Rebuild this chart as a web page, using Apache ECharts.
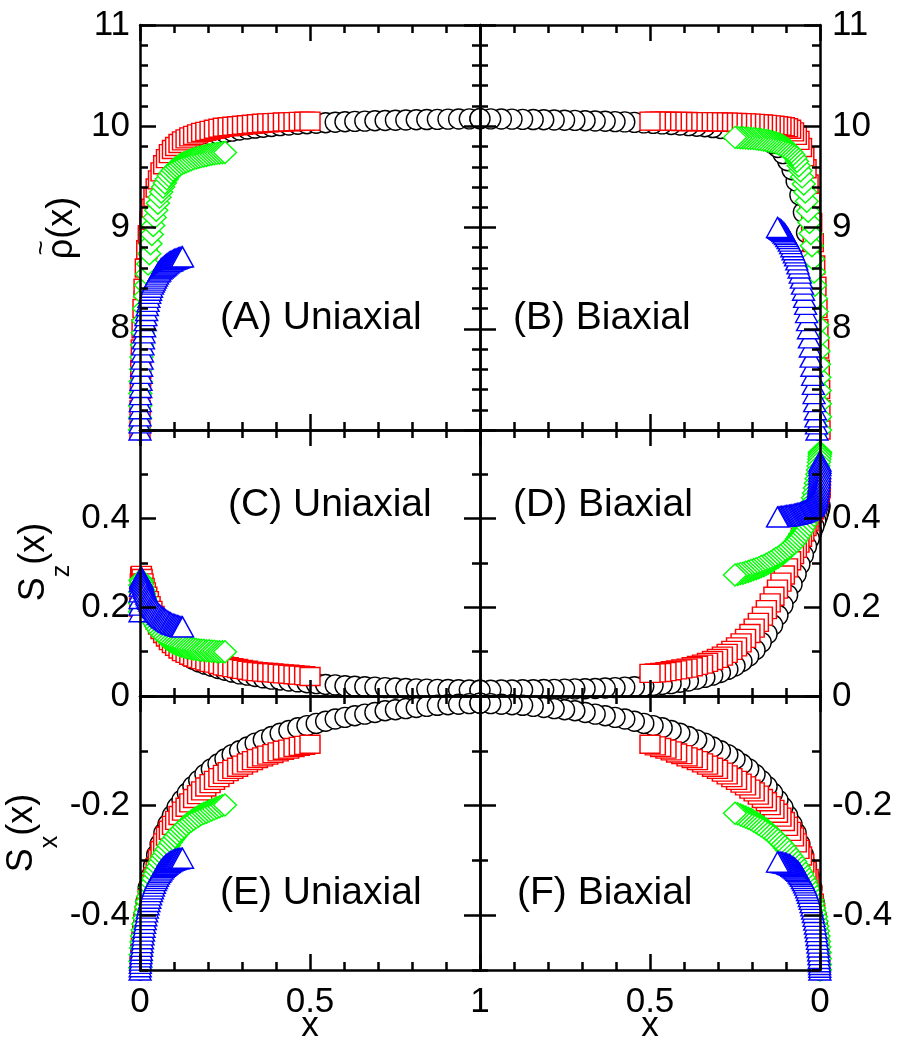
<!DOCTYPE html>
<html>
<head>
<meta charset="utf-8">
<title>Density and order-parameter profiles</title>
<script src="https://cdn.jsdelivr.net/npm/echarts@6.0.0/dist/echarts.min.js"></script>
<style>
  html, body { margin: 0; padding: 0; background: #ffffff; }
  #chart { width: 898px; height: 1040px; }
</style>
</head>
<body>
<div id="chart"></div>
<script>
// ---------- sampling positions (distance from the wall) for the four system sizes ----------
const xCircle = [0, 0.0005, 0.002, 0.0044, 0.0079, 0.0123, 0.0177, 0.0241, 0.0314, 0.0397, 0.0489, 0.0591, 0.0702, 0.0822, 0.0952, 0.109, 0.1237, 0.1393, 0.1557, 0.1729, 0.191, 0.2098, 0.2295, 0.2499, 0.271, 0.2929, 0.3155, 0.3387, 0.3626, 0.3871, 0.4122, 0.4379, 0.4642, 0.491, 0.5183, 0.546, 0.5742, 0.6029, 0.6319, 0.6613, 0.691, 0.721, 0.7513, 0.7819, 0.8126, 0.8436, 0.8747, 0.9059, 0.9372, 0.9686, 1];
const xSquare = [0, 0.00025, 0.001, 0.0022, 0.004, 0.0062, 0.0089, 0.012, 0.0157, 0.0199, 0.0245, 0.0296, 0.0351, 0.0411, 0.0476, 0.0545, 0.0619, 0.0697, 0.0779, 0.0865, 0.0955, 0.1049, 0.1148, 0.125, 0.1355, 0.1465, 0.1578, 0.1694, 0.1813, 0.1936, 0.2061, 0.219, 0.2321, 0.2455, 0.2592, 0.273, 0.2871, 0.3015, 0.316, 0.3307, 0.3455, 0.3605, 0.3757, 0.391, 0.4063, 0.4218, 0.4374, 0.453, 0.4686, 0.4843, 0.5];
const xDiamond = [0, 0.0001, 0.0005, 0.0011, 0.002, 0.0031, 0.0044, 0.006, 0.0079, 0.0099, 0.0122, 0.0148, 0.0176, 0.0206, 0.0238, 0.0273, 0.0309, 0.0348, 0.0389, 0.0432, 0.0478, 0.0525, 0.0574, 0.0625, 0.0678, 0.0732, 0.0789, 0.0847, 0.0907, 0.0968, 0.1031, 0.1095, 0.1161, 0.1228, 0.1296, 0.1365, 0.1436, 0.1507, 0.158, 0.1653, 0.1728, 0.1803, 0.1878, 0.1955, 0.2032, 0.2109, 0.2187, 0.2265, 0.2343, 0.2422, 0.25];
const xTriangle = [0, 0.0001, 0.0003, 0.0006, 0.001, 0.0015, 0.0022, 0.003, 0.0039, 0.005, 0.0061, 0.0074, 0.0088, 0.0103, 0.0119, 0.0136, 0.0155, 0.0174, 0.0195, 0.0216, 0.0239, 0.0262, 0.0287, 0.0312, 0.0339, 0.0366, 0.0394, 0.0423, 0.0453, 0.0484, 0.0515, 0.0547, 0.058, 0.0614, 0.0648, 0.0683, 0.0718, 0.0754, 0.079, 0.0827, 0.0864, 0.0901, 0.0939, 0.0977, 0.1016, 0.1055, 0.1093, 0.1132, 0.1172, 0.1211, 0.125];

// ---------- (A) density, uniaxial ----------
const rhoUniCircle = [7.0, 7.2, 7.45, 7.75, 8.05, 8.35, 8.62, 8.85, 9.05, 9.2, 9.33, 9.44, 9.53, 9.61, 9.67, 9.72, 9.77, 9.81, 9.84, 9.87, 9.89, 9.91, 9.925, 9.94, 9.952, 9.963, 9.973, 9.982, 9.99, 9.998, 10.006, 10.013, 10.02, 10.025, 10.03, 10.035, 10.04, 10.044, 10.048, 10.051, 10.054, 10.057, 10.06, 10.062, 10.064, 10.066, 10.068, 10.07, 10.072, 10.073, 10.075];
const rhoUniSquare = [7.0, 7.2, 7.4, 7.6, 7.8, 8.0, 8.2, 8.4, 8.6, 8.78, 8.93, 9.07, 9.19, 9.3, 9.39, 9.47, 9.55, 9.62, 9.68, 9.73, 9.77, 9.8, 9.83, 9.855, 9.875, 9.895, 9.91, 9.925, 9.94, 9.95, 9.96, 9.97, 9.98, 9.99, 9.995, 10.0, 10.005, 10.01, 10.015, 10.02, 10.025, 10.03, 10.033, 10.036, 10.039, 10.042, 10.044, 10.046, 10.048, 10.049, 10.05];
const rhoUniDiamond = [7.0, 7.12, 7.24, 7.36, 7.48, 7.6, 7.72, 7.84, 7.96, 8.08, 8.2, 8.32, 8.43, 8.54, 8.64, 8.74, 8.84, 8.93, 9.02, 9.1, 9.17, 9.24, 9.3, 9.35, 9.4, 9.44, 9.48, 9.51, 9.54, 9.565, 9.585, 9.6, 9.615, 9.63, 9.64, 9.65, 9.66, 9.67, 9.68, 9.687, 9.694, 9.7, 9.706, 9.712, 9.718, 9.723, 9.728, 9.732, 9.735, 9.738, 9.74];
const rhoUniTriangle = [7.0, 7.07, 7.14, 7.21, 7.28, 7.35, 7.42, 7.49, 7.56, 7.63, 7.7, 7.77, 7.84, 7.9, 7.96, 8.02, 8.08, 8.13, 8.18, 8.23, 8.27, 8.31, 8.35, 8.38, 8.41, 8.44, 8.46, 8.48, 8.5, 8.52, 8.54, 8.56, 8.57, 8.59, 8.6, 8.61, 8.62, 8.63, 8.64, 8.65, 8.66, 8.665, 8.67, 8.68, 8.685, 8.69, 8.695, 8.7, 8.705, 8.708, 8.71];

// ---------- (B) density, biaxial ----------
const rhoBiCircle = [6.5, 6.7, 6.85, 7.0, 7.3, 7.65, 8.0, 8.35, 8.7, 8.95, 9.15, 9.32, 9.46, 9.57, 9.66, 9.73, 9.79, 9.83, 9.865, 9.89, 9.91, 9.925, 9.94, 9.955, 9.968, 9.978, 9.987, 9.995, 10.0, 10.006, 10.012, 10.018, 10.023, 10.028, 10.033, 10.038, 10.043, 10.046, 10.049, 10.052, 10.055, 10.058, 10.06, 10.062, 10.064, 10.066, 10.068, 10.07, 10.072, 10.073, 10.075];
const rhoBiSquare = [7.0, 7.2, 7.4, 7.6, 7.8, 8.0, 8.2, 8.42, 8.63, 8.85, 9.05, 9.25, 9.43, 9.58, 9.7, 9.79, 9.86, 9.91, 9.945, 9.97, 9.985, 9.995, 10.0, 10.005, 10.01, 10.014, 10.018, 10.022, 10.025, 10.028, 10.031, 10.033, 10.035, 10.037, 10.039, 10.04, 10.041, 10.042, 10.043, 10.044, 10.045, 10.046, 10.046, 10.047, 10.047, 10.048, 10.048, 10.049, 10.049, 10.05, 10.05];
const rhoBiDiamond = [7.0, 7.13, 7.26, 7.39, 7.52, 7.65, 7.78, 7.91, 8.04, 8.17, 8.3, 8.43, 8.56, 8.69, 8.82, 8.94, 9.05, 9.16, 9.26, 9.35, 9.43, 9.5, 9.56, 9.61, 9.655, 9.69, 9.72, 9.745, 9.765, 9.78, 9.795, 9.807, 9.818, 9.828, 9.836, 9.843, 9.849, 9.855, 9.86, 9.864, 9.868, 9.872, 9.875, 9.878, 9.88, 9.882, 9.884, 9.886, 9.887, 9.888, 9.89];
const rhoBiTriangle = [6.4, 6.45, 6.5, 6.55, 6.6, 6.65, 6.7, 6.75, 6.8, 6.85, 6.9, 6.95, 7.0, 7.06, 7.13, 7.2, 7.28, 7.36, 7.45, 7.54, 7.63, 7.72, 7.82, 7.91, 8.0, 8.08, 8.16, 8.24, 8.31, 8.38, 8.44, 8.5, 8.55, 8.6, 8.64, 8.68, 8.72, 8.75, 8.78, 8.81, 8.84, 8.865, 8.89, 8.91, 8.93, 8.945, 8.96, 8.972, 8.983, 8.992, 9.0];

// ---------- (C) S_z, uniaxial ----------
const szUniCircle = [0.2, 0.24, 0.262, 0.265, 0.255, 0.243, 0.23, 0.215, 0.2, 0.183, 0.165, 0.152, 0.14, 0.128, 0.117, 0.107, 0.098, 0.09, 0.083, 0.077, 0.072, 0.067, 0.062, 0.058, 0.054, 0.05, 0.047, 0.044, 0.041, 0.038, 0.036, 0.034, 0.032, 0.03, 0.028, 0.026, 0.025, 0.023, 0.022, 0.021, 0.02, 0.019, 0.018, 0.017, 0.016, 0.0155, 0.015, 0.0145, 0.014, 0.0135, 0.013];
const szUniSquare = [0.2, 0.23, 0.255, 0.27, 0.272, 0.265, 0.255, 0.245, 0.235, 0.225, 0.215, 0.204, 0.193, 0.182, 0.171, 0.16, 0.15, 0.141, 0.133, 0.125, 0.118, 0.112, 0.106, 0.1, 0.096, 0.092, 0.088, 0.085, 0.082, 0.079, 0.076, 0.074, 0.071, 0.068, 0.066, 0.064, 0.062, 0.06, 0.058, 0.056, 0.055, 0.054, 0.053, 0.052, 0.051, 0.05, 0.049, 0.048, 0.047, 0.046, 0.044];
const szUniDiamond = [0.19, 0.21, 0.235, 0.25, 0.26, 0.262, 0.258, 0.252, 0.245, 0.238, 0.23, 0.222, 0.214, 0.206, 0.198, 0.19, 0.183, 0.176, 0.169, 0.163, 0.157, 0.151, 0.146, 0.141, 0.137, 0.133, 0.129, 0.126, 0.123, 0.12, 0.118, 0.116, 0.114, 0.112, 0.111, 0.109, 0.108, 0.107, 0.106, 0.105, 0.104, 0.103, 0.103, 0.102, 0.102, 0.101, 0.101, 0.1, 0.1, 0.1, 0.1];
const szUniTriangle = [0.19, 0.205, 0.22, 0.235, 0.248, 0.258, 0.265, 0.268, 0.268, 0.266, 0.263, 0.259, 0.255, 0.251, 0.247, 0.243, 0.239, 0.235, 0.23, 0.226, 0.222, 0.218, 0.214, 0.21, 0.206, 0.203, 0.2, 0.197, 0.194, 0.191, 0.188, 0.185, 0.183, 0.18, 0.178, 0.176, 0.174, 0.172, 0.17, 0.168, 0.166, 0.165, 0.163, 0.162, 0.161, 0.16, 0.159, 0.158, 0.157, 0.156, 0.156];

// ---------- (D) S_z, biaxial ----------
const szBiCircle = [0.43, 0.425, 0.42, 0.413, 0.405, 0.395, 0.383, 0.37, 0.355, 0.338, 0.318, 0.297, 0.275, 0.252, 0.228, 0.205, 0.182, 0.16, 0.14, 0.121, 0.104, 0.09, 0.078, 0.068, 0.06, 0.053, 0.047, 0.042, 0.038, 0.034, 0.031, 0.028, 0.026, 0.024, 0.022, 0.021, 0.02, 0.019, 0.018, 0.017, 0.0165, 0.016, 0.0155, 0.015, 0.0145, 0.014, 0.014, 0.0135, 0.0135, 0.013, 0.013];
const szBiSquare = [0.47, 0.468, 0.465, 0.46, 0.455, 0.45, 0.443, 0.436, 0.428, 0.42, 0.412, 0.403, 0.393, 0.382, 0.37, 0.358, 0.345, 0.333, 0.319, 0.305, 0.289, 0.273, 0.257, 0.241, 0.225, 0.21, 0.195, 0.18, 0.166, 0.153, 0.141, 0.13, 0.12, 0.111, 0.103, 0.096, 0.09, 0.085, 0.08, 0.076, 0.072, 0.069, 0.066, 0.063, 0.061, 0.059, 0.057, 0.055, 0.053, 0.052, 0.051];
const szBiDiamond = [0.55, 0.548, 0.545, 0.54, 0.534, 0.527, 0.519, 0.51, 0.5, 0.49, 0.48, 0.469, 0.458, 0.447, 0.436, 0.425, 0.415, 0.405, 0.396, 0.388, 0.38, 0.373, 0.366, 0.36, 0.354, 0.348, 0.343, 0.338, 0.333, 0.329, 0.325, 0.321, 0.317, 0.313, 0.31, 0.307, 0.303, 0.3, 0.297, 0.294, 0.292, 0.289, 0.287, 0.285, 0.283, 0.281, 0.279, 0.277, 0.276, 0.274, 0.273];
const szBiTriangle = [0.53, 0.525, 0.52, 0.513, 0.506, 0.499, 0.492, 0.485, 0.478, 0.471, 0.465, 0.459, 0.454, 0.449, 0.445, 0.441, 0.438, 0.435, 0.432, 0.43, 0.428, 0.426, 0.424, 0.423, 0.421, 0.42, 0.419, 0.418, 0.417, 0.416, 0.415, 0.414, 0.413, 0.412, 0.412, 0.411, 0.41, 0.41, 0.409, 0.409, 0.408, 0.408, 0.407, 0.407, 0.406, 0.406, 0.405, 0.405, 0.405, 0.404, 0.404];

// ---------- (E) and (F) S_x ----------
const sxCircle = [-0.5, -0.48, -0.46, -0.44, -0.42, -0.4, -0.375, -0.35, -0.33, -0.31, -0.29, -0.27, -0.25, -0.234, -0.218, -0.203, -0.19, -0.177, -0.165, -0.154, -0.143, -0.133, -0.124, -0.115, -0.107, -0.1, -0.093, -0.086, -0.08, -0.074, -0.068, -0.063, -0.058, -0.054, -0.05, -0.046, -0.042, -0.039, -0.036, -0.033, -0.03, -0.027, -0.025, -0.023, -0.021, -0.019, -0.017, -0.016, -0.015, -0.014, -0.013];
const sxUniSquare = [-0.52, -0.505, -0.49, -0.475, -0.46, -0.445, -0.43, -0.415, -0.4, -0.385, -0.37, -0.356, -0.343, -0.33, -0.313, -0.297, -0.282, -0.268, -0.256, -0.245, -0.236, -0.227, -0.218, -0.21, -0.203, -0.195, -0.187, -0.18, -0.173, -0.166, -0.16, -0.154, -0.149, -0.143, -0.138, -0.134, -0.13, -0.126, -0.122, -0.118, -0.114, -0.111, -0.108, -0.105, -0.102, -0.099, -0.097, -0.094, -0.092, -0.09, -0.088];
const sxUniDiamond = [-0.52, -0.508, -0.496, -0.484, -0.472, -0.46, -0.449, -0.438, -0.427, -0.416, -0.405, -0.395, -0.385, -0.375, -0.366, -0.357, -0.349, -0.341, -0.333, -0.325, -0.318, -0.311, -0.304, -0.297, -0.291, -0.285, -0.279, -0.273, -0.267, -0.262, -0.257, -0.252, -0.247, -0.243, -0.239, -0.235, -0.231, -0.228, -0.225, -0.222, -0.219, -0.216, -0.214, -0.212, -0.21, -0.208, -0.206, -0.204, -0.202, -0.2, -0.199];
const sxUniTriangle = [-0.51, -0.505, -0.5, -0.494, -0.488, -0.482, -0.476, -0.47, -0.464, -0.457, -0.45, -0.443, -0.436, -0.429, -0.422, -0.415, -0.408, -0.401, -0.394, -0.387, -0.381, -0.375, -0.369, -0.363, -0.357, -0.352, -0.347, -0.342, -0.337, -0.333, -0.329, -0.325, -0.322, -0.319, -0.316, -0.313, -0.311, -0.309, -0.307, -0.305, -0.304, -0.302, -0.301, -0.3, -0.299, -0.298, -0.297, -0.297, -0.296, -0.296, -0.296];
const sxBiSquare = [-0.52, -0.505, -0.49, -0.475, -0.46, -0.445, -0.43, -0.412, -0.395, -0.378, -0.362, -0.347, -0.333, -0.319, -0.305, -0.292, -0.28, -0.268, -0.257, -0.247, -0.238, -0.229, -0.221, -0.214, -0.207, -0.2, -0.193, -0.187, -0.181, -0.175, -0.17, -0.164, -0.159, -0.154, -0.149, -0.144, -0.139, -0.134, -0.13, -0.126, -0.122, -0.118, -0.114, -0.111, -0.107, -0.104, -0.1, -0.097, -0.094, -0.091, -0.088];
const sxBiDiamond = [-0.5, -0.49, -0.479, -0.468, -0.458, -0.448, -0.438, -0.429, -0.42, -0.411, -0.403, -0.395, -0.387, -0.379, -0.372, -0.365, -0.358, -0.351, -0.344, -0.337, -0.331, -0.325, -0.319, -0.313, -0.308, -0.302, -0.297, -0.292, -0.287, -0.282, -0.277, -0.272, -0.268, -0.263, -0.259, -0.255, -0.251, -0.247, -0.243, -0.24, -0.237, -0.234, -0.231, -0.228, -0.225, -0.223, -0.221, -0.219, -0.217, -0.215, -0.214];
const sxBiTriangle = [-0.51, -0.505, -0.5, -0.495, -0.49, -0.485, -0.479, -0.472, -0.465, -0.458, -0.451, -0.444, -0.437, -0.43, -0.423, -0.416, -0.409, -0.402, -0.395, -0.389, -0.383, -0.377, -0.371, -0.366, -0.36, -0.355, -0.35, -0.345, -0.341, -0.337, -0.333, -0.329, -0.326, -0.323, -0.32, -0.318, -0.316, -0.314, -0.312, -0.311, -0.309, -0.308, -0.307, -0.306, -0.305, -0.305, -0.304, -0.304, -0.303, -0.303, -0.303];

// ---------- tick labels ----------
const rhoTickLabels = [8, 9, 10, 11];
const szTickLabels = [0, 0.2, 0.4];
const sxTickLabels = [-0.4, -0.2];
const xTickLabelsLeft = [0, 0.5, 1];
const xTickLabelsRight = [0, 0.5];
const panelTags = ['(A) Uniaxial', '(B) Biaxial', '(C) Uniaxial', '(D) Biaxial', '(E) Uniaxial', '(F) Biaxial'];

// ---------- drawing ----------
const FONT = '"Liberation Sans", Arial, Helvetica, sans-serif';
const INK = '#000000';

function stepTicks(from, to, step) {
  const out = [];
  const n = Math.round((to - from) / step);
  for (let k = 0; k <= n; k++) out.push(+(from + k * step).toFixed(6));
  return out;
}
const isOn = (v, list) => list.some(m => Math.abs(m - v) < 1e-9);

const xMajors = [0, 0.5, 1];
const xMinors = stepTicks(0, 1, 0.1).filter(v => !isOn(v, xMajors));

const rows = [
  { top: 25, height: 405, min: 7, max: 11, majors: [7, 8, 9, 10, 11], labels: rhoTickLabels },
  { top: 430, height: 266, min: 0, max: 0.6, majors: [0, 0.2, 0.4, 0.6], labels: szTickLabels },
  { top: 696, height: 274, min: -0.5, max: 0, majors: [-0.4, -0.2, 0], labels: sxTickLabels }
];
rows[0].minors = stepTicks(7, 11, 0.2).filter(v => !isOn(v, rows[0].majors));
rows[1].minors = stepTicks(0, 0.6, 0.1).filter(v => !isOn(v, rows[1].majors));
rows[2].minors = stepTicks(-0.5, 0, 0.1).filter(v => !isOn(v, rows[2].majors));

const cols = [{ left: 140, width: 340 }, { left: 480, width: 340 }];

const panelSeries = [
  [rhoUniCircle, rhoUniSquare, rhoUniDiamond, rhoUniTriangle],
  [rhoBiCircle, rhoBiSquare, rhoBiDiamond, rhoBiTriangle],
  [szUniCircle, szUniSquare, szUniDiamond, szUniTriangle],
  [szBiCircle, szBiSquare, szBiDiamond, szBiTriangle],
  [sxCircle, sxUniSquare, sxUniDiamond, sxUniTriangle],
  [sxCircle, sxBiSquare, sxBiDiamond, sxBiTriangle]
];
const markers = [
  { xs: xCircle, symbol: 'circle', size: 20, color: '#000000' },
  { xs: xSquare, symbol: 'rect', size: [20, 18], color: '#ff0000' },
  { xs: xDiamond, symbol: 'diamond', size: [23, 22], color: '#00ff00' },
  { xs: xTriangle, symbol: 'triangle', size: [22, 20], color: '#0000ff' }
];

const grids = [], xAxes = [], yAxes = [], series = [];
const tickStyle = { color: INK, width: 2.5 };
const labelBase = { color: INK, fontFamily: FONT, fontSize: 35 };

// one visible axis with long ticks and labels, plus a twin carrying the short ticks
function addSide(list, base, majors, minors, labels, labelMargin, extra) {
  const idx = list.length;
  list.push(Object.assign({}, base, {
    axisLine: { show: true, onZero: false, lineStyle: { color: INK, width: 2.5 } },
    axisTick: { show: true, inside: true, length: 16, lineStyle: tickStyle, customValues: majors },
    axisLabel: labels
      ? Object.assign({ show: true, customValues: labels, margin: labelMargin, formatter: v => String(v) }, labelBase)
      : { show: false },
    splitLine: { show: false },
    minorTick: { show: false }
  }, extra || {}));
  list.push(Object.assign({}, base, {
    axisLine: { show: false, onZero: false },
    axisTick: { show: true, inside: true, length: 8, lineStyle: tickStyle, customValues: minors },
    axisLabel: { show: false },
    splitLine: { show: false }
  }));
  return idx;
}

for (let r = 0; r < 3; r++) {
  for (let c = 0; c < 2; c++) {
    const g = grids.length;
    const row = rows[r];
    grids.push({ left: cols[c].left, width: cols[c].width, top: row.top, height: row.height,
                 containLabel: false, outerBoundsMode: 'none' });
    const xBase = { type: 'value', gridIndex: g, min: 0, max: 1, inverse: c === 1, z: 6 };
    const bottomLabels = r === 2 ? (c === 0 ? xTickLabelsLeft : xTickLabelsRight) : null;
    const xi = addSide(xAxes, Object.assign({ position: 'bottom' }, xBase), xMajors, xMinors, bottomLabels, 15,
      r === 2 ? { name: 'x', nameLocation: 'middle', nameGap: 39, nameMoveOverlap: false,
                  nameTextStyle: { color: INK, fontFamily: FONT, fontSize: 35 } } : null);
    addSide(xAxes, Object.assign({ position: 'top' }, xBase), xMajors, xMinors, null, 0);

    const yBase = { type: 'value', gridIndex: g, min: row.min, max: row.max, z: 6 };
    const yi = addSide(yAxes, Object.assign({ position: 'left' }, yBase), row.majors, row.minors,
      c === 0 ? row.labels : null, 10);
    addSide(yAxes, Object.assign({ position: 'right' }, yBase), row.majors, row.minors,
      c === 1 ? row.labels : null, 12);

    panelSeries[g].forEach((ys, k) => {
      const m = markers[k];
      series.push({
        type: 'scatter',
        xAxisIndex: xi,
        yAxisIndex: yi,
        data: m.xs.map((x, i) => [x, ys[i]]),
        symbol: m.symbol,
        symbolSize: m.size,
        itemStyle: { color: '#ffffff', borderColor: m.color, borderWidth: 1.4, opacity: 1 },
        clip: true,
        silent: true,
        z: 2 + k
      });
    });
  }
}

const tagAnchors = [[220, 318], [513, 318], [228, 505], [513, 505], [220, 893], [517, 893]];
const graphics = panelTags.map((t, i) => ({
  type: 'text', x: tagAnchors[i][0], y: tagAnchors[i][1], z: 20,
  style: { text: t, fill: INK, font: '39px ' + FONT, align: 'left', verticalAlign: 'middle' }
}));
// rho(x) with a tilde set above the rho
graphics.push({
  type: 'text', x: 62, y: 228, rotation: Math.PI / 2, z: 20,
  style: { text: '\u03C1(x)', fill: INK, font: '36px ' + FONT, align: 'center', verticalAlign: 'middle' }
});
graphics.push({
  type: 'text', x: 42, y: 248, rotation: Math.PI / 2, z: 20,
  style: { text: '~', fill: INK, font: '26px ' + FONT, align: 'center', verticalAlign: 'middle' }
});
const subRich = {
  m: { fontSize: 36, fontFamily: FONT, color: INK, lineHeight: 36 },
  s: { fontSize: 25, fontFamily: FONT, color: INK, lineHeight: 25, padding: [56, 0, 0, 0] }
};
graphics.push({
  type: 'text', x: 34, y: 562, rotation: Math.PI / 2, z: 20,
  style: { text: '{m|S}{s|z}{m|(x)}', rich: subRich, align: 'center', verticalAlign: 'middle' }
});
graphics.push({
  type: 'text', x: 22, y: 833, rotation: Math.PI / 2, z: 20,
  style: { text: '{m|S}{s|x}{m|(x)}', rich: subRich, align: 'center', verticalAlign: 'middle' }
});

const chart = echarts.init(document.getElementById('chart'), null, { renderer: 'canvas' });
chart.setOption({
  animation: false,
  backgroundColor: '#ffffff',
  textStyle: { fontFamily: FONT },
  grid: grids,
  xAxis: xAxes,
  yAxis: yAxes,
  series: series,
  graphic: graphics
});
</script>
</body>
</html>
